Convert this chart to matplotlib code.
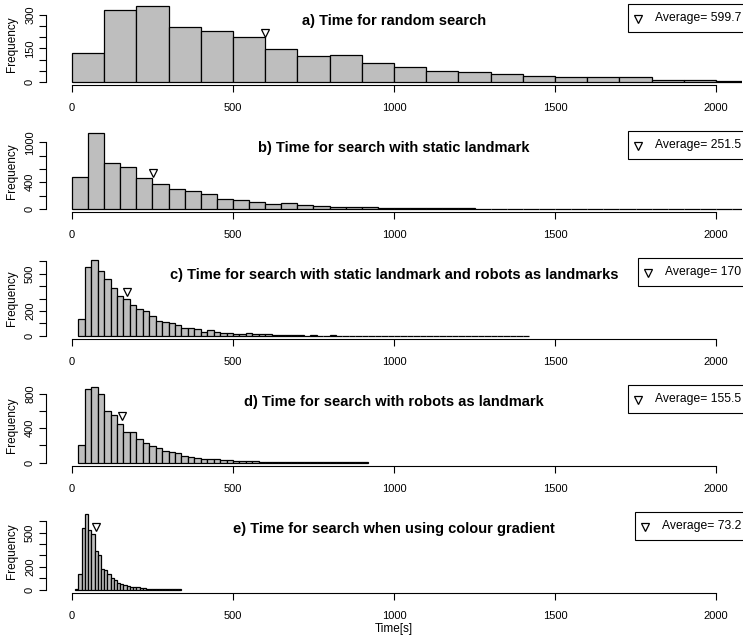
import numpy as np
import matplotlib
matplotlib.use("agg")
import matplotlib.pyplot as plt
from matplotlib.lines import Line2D
from matplotlib.patches import Rectangle

plt.rcParams["font.family"] = ["Liberation Sans", "DejaVu Sans"]

# histogram counts (bin start, bin width, counts)
titles = ["a) Time for random search",
          "b) Time for search with static landmark",
          "c) Time for search with static landmark and robots as landmarks",
          "d) Time for search with robots as landmark",
          "e) Time for search when using colour gradient"]
bin_start = [0, 0, 20, 20, 10]
bin_width = [100, 50, 20, 20, 10]

counts_a = [130, 323, 340, 248, 229, 200, 147, 117, 120, 85, 67, 51, 43, 36,
            25, 21, 21, 24, 10, 7, 3, 2]
counts_b = [483, 1140, 695, 630, 465, 375, 300, 268, 220, 155, 135, 105, 75, 85,
            65, 50, 35, 30, 35, 20, 20, 15, 12, 10, 8, 5, 2, 3, 2, 3, 1, 2, 3, 2,
            0, 1, 3, 1, 0, 1, 1, 0]
counts_c = [135, 557, 613, 526, 458, 385, 325, 298, 247, 217, 200, 158, 120, 110,
            106, 86, 63, 59, 56, 33, 47, 28, 24, 23, 15, 13, 19, 16, 11, 11, 8, 8,
            5, 3,
            3, 2, 3, 2, 2, 3, 1, 2, 2, 1, 2, 1, 1, 2, 1, 2,
            1, 0, 1, 0, 0, 1, 0, 0, 0, 1, 0, 0, 0, 0, 0, 0, 0, 0, 0, 1]
counts_d = [203, 860, 883, 796, 600, 558, 454, 359, 359, 280, 228, 195, 170, 135,
            122, 112, 72, 68, 60, 42, 40, 40, 31, 29, 25, 22, 20, 15, 13, 10, 9, 8,
            7, 6, 5, 5, 4, 3, 3, 3, 2, 4, 2, 3, 2]
counts_e = [2, 137, 542, 668, 520, 487, 343, 300, 185, 170, 140, 105, 80, 62, 45,
            36, 30, 26, 22, 24, 16, 12, 9, 7, 5, 4, 4, 3, 3, 2, 2, 2, 1]
all_counts = [counts_a, counts_b, counts_c, counts_d, counts_e]

averages = [599.7, 251.5, 170, 155.5, 73.2]
avg_labels = ["599.7", "251.5", "170", "155.5", "73.2"]
avg_marker_y = [218, 545, 350, 545, 548]

ytick_step = [50, 200, 100, 200, 100]
ytick_top = [300, 1000, 600, 800, 600]
ytick_shown = [[0, 150, 300], [0, 400, 1000], [0, 200, 500], [0, 400, 800], [0, 200, 500]]

W, H = 743, 637
fig = plt.figure(figsize=(W / 100, H / 100), dpi=100)
renderer = fig.canvas.get_renderer()

left_px, width_px = 46.2, 695.6
for i in range(5):
    base = 82 + 126.9 * i          # pixel row of the zero line
    ax = fig.add_axes([left_px / W, 1 - (base + 3) / H, width_px / W, 82 / H])
    counts = np.array(all_counts[i])
    M = counts.max()
    edges = bin_start[i] + bin_width[i] * np.arange(len(counts))
    ax.bar(edges, counts, width=bin_width[i], align="edge", color="#BEBEBE",
           edgecolor="black", linewidth=0.9)
    ax.set_xlim(-80, 2080)
    ax.set_ylim(-0.04 * M, 1.04 * M)

    for s in ["top", "right"]:
        ax.spines[s].set_visible(False)
    ax.spines["left"].set_bounds(0, ytick_top[i])
    ax.spines["bottom"].set_bounds(0, 2000)
    ax.spines["left"].set_linewidth(0.8)
    ax.spines["bottom"].set_linewidth(0.8)

    ax.set_xticks([0, 500, 1000, 1500, 2000])
    ax.tick_params(axis="x", length=5, width=0.8, pad=8, labelsize=8)
    yt = np.arange(0, ytick_top[i] + 1, ytick_step[i])
    ax.set_yticks(yt)
    ax.set_yticklabels([str(v) if v in ytick_shown[i] else "" for v in yt],
                       rotation=90, va="center")
    ax.tick_params(axis="y", length=5, width=0.8, pad=3, labelsize=8)
    ax.set_ylabel("Frequency", fontsize=8.5)
    ax.yaxis.set_label_coords(-0.041, 0.5)

    ax.text(1000, 0.8 * M, titles[i], ha="center", va="center",
            fontweight="bold", fontsize=10.5)

    ax.plot([averages[i]], [avg_marker_y[i]], marker="v", ms=6, mfc="white",
            mec="black", mew=0.9, ls="none", clip_on=False)

    # legend box in the top right corner, as R draws it
    box_top, box_bot = base - 78, base - 50
    yc = (box_top + box_bot) / 2
    t = fig.text(741 / W, 1 - yc / H, "Average= " + avg_labels[i], ha="right",
                 va="center", fontsize=8.7)
    text_left = t.get_window_extent(renderer).x0
    box_left = text_left - 27
    fig.add_artist(Rectangle((box_left / W, 1 - box_bot / H), (745 - box_left) / W,
                             28 / H, transform=fig.transFigure, facecolor="white",
                             edgecolor="black", linewidth=0.8, zorder=2))
    t.set_zorder(3)
    fig.add_artist(Line2D([(text_left - 17) / W], [1 - (yc + 1) / H],
                          transform=fig.transFigure, marker="v", ms=6, mfc="white",
                          mec="black", mew=0.9, ls="none", zorder=3))

    if i == 4:
        ax.set_xlabel("Time[s]", fontsize=8.5, labelpad=2)

fig.savefig("out.png", dpi=100)
